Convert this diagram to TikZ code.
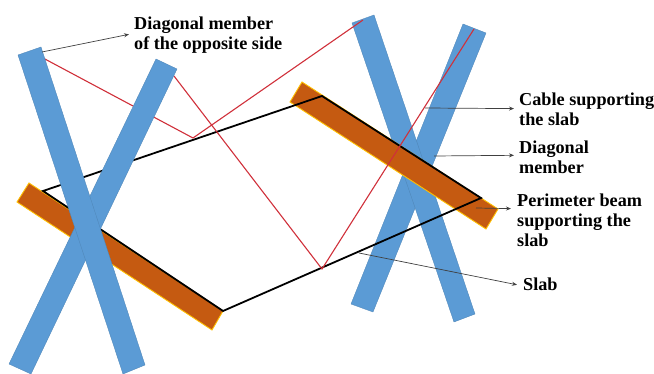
\documentclass[tikz,border=0pt]{standalone}
\usepackage{fontspec}
\setmainfont{Liberation Serif}
\usetikzlibrary{positioning, arrows.meta}
\definecolor{beamblue}{HTML}{5B9BD5}
\definecolor{edgeblue}{HTML}{4F86B8}
\definecolor{beamorange}{HTML}{C55A11}
\definecolor{edgegold}{HTML}{FFC000}
\definecolor{cablered}{HTML}{D0303A}
\tikzset{
  diagonal/.style={fill=beamblue, draw=edgeblue, line width=0.35pt},
  perimeter/.style={fill=beamorange, draw=edgegold, line width=0.9pt},
  slabline/.style={black, line width=1.8pt, line join=miter},
  cable/.style={cablered, line width=1.1pt},
  leader/.style={-{Stealth[length=5pt, width=4pt]}, black!75, line width=0.7pt},
  note/.style={anchor=base west, align=left, inner sep=0pt, font=\fontsize{18.2}{20}\selectfont\bfseries}
}

\begin{document}
\begin{tikzpicture}[x=1pt, y=-1pt]
\useasboundingbox (0,0) rectangle (654,374);

% Right diagonals
\path[diagonal] (463,24) -- (486,33) -- (373,312) -- (351,304) -- cycle;
\path[diagonal] (352,23) -- (374,15) -- (475,314) -- (454,322) -- cycle;

% Perimeter beams
\path[perimeter] (29,183) -- (223,311) -- (212,330) -- (17,202) -- cycle;
\path[perimeter] (302,82) -- (498,209) -- (486,229) -- (290,102) -- cycle;

% Slab
\draw[slabline] (43,191) -- (322,96) -- (481,198) -- (223,311) -- cycle;

% Cables
\draw[cable] (43,58) -- (193,138) -- (363,20);
\draw[cable] (174,76) -- (322,269) -- (474,29);

% Left diagonals
\path[diagonal] (156,59) -- (177,69) -- (31,374) -- (9,364) -- cycle;
\path[diagonal] (18,55) -- (41,47) -- (145,365) -- (123,374) -- cycle;

% Labels
\node[note] (opposite) at (134,50) {Diagonal member\\of the opposite side};
\node[note] (cablelabel) at (519,126) {Cable supporting\\the slab};
\node[note] (memberlabel) at (519,174) {Diagonal\\member};
\node[note] (beamlabel) at (517,247) {Perimeter beam\\supporting the\\slab};
\node[note] (slablabel) at (523,291) {Slab};

% Leaders
\coordinate (oppositeend) at (42,52);
\coordinate (cableend) at (425,108);
\coordinate (memberend) at (434,156);
\coordinate (beamend) at (476,208);
\coordinate (slabend) at (359,253);
\draw[leader] (oppositeend) -- ([xshift=-5pt]opposite.179);
\draw[leader] (cableend) -- ([xshift=-5pt]cablelabel.179);
\draw[leader] (memberend) -- ([xshift=-5pt]memberlabel.176);
\draw[leader] (beamend) -- ([xshift=-6pt]beamlabel.169);
\draw[leader] (slabend) -- ([xshift=-6pt]slablabel.west);

\end{tikzpicture}
\end{document}
